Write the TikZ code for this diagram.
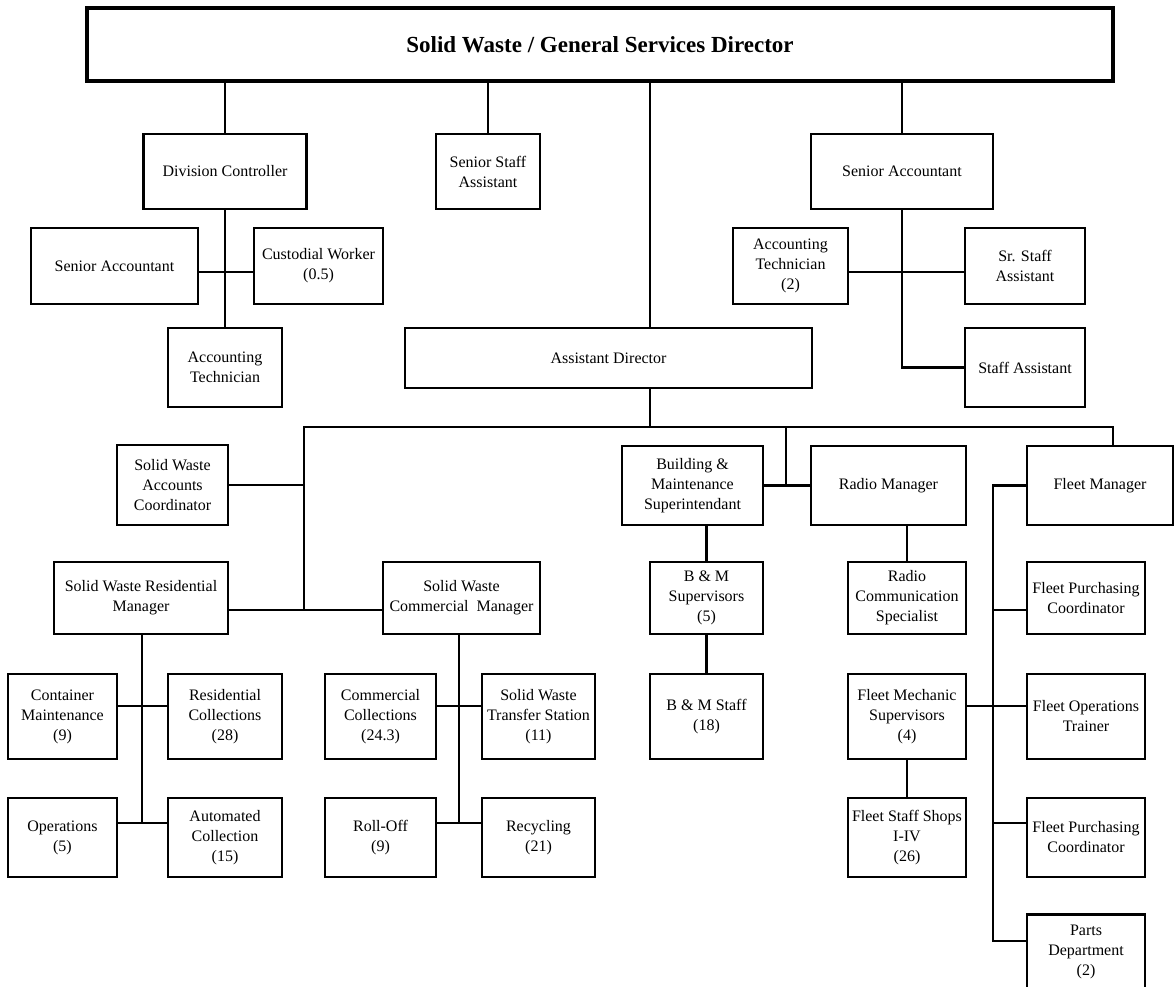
\documentclass[tikz,border=0pt]{standalone}
\usepackage{fontspec}
\setmainfont{Liberation Serif}
\usepackage{tikz}
\tikzset{
	orgbox/.style={draw=black, line width=2.2pt, align=center, inner sep=2pt, font=\fontsize{16}{20}\selectfont},
	link/.style={draw=black, line width=2.2pt},
}

\begin{document}
\begin{tikzpicture}[x=1pt, y=-1pt]
					\useasboundingbox (0, 0) rectangle (1175, 987);
					\node[orgbox, line width=3.8pt, minimum width=1026pt, minimum height=73pt, font=\fontsize{23}{28}\selectfont\bfseries] (dir) at (600, 44.5) {Solid Waste / General Services Director};
					% upper staff
					\node[orgbox, minimum width=163pt, minimum height=75pt] (ctl) at (225, 171.5) {Division Controller};
					\node[orgbox, minimum width=104pt, minimum height=75pt] (ssa) at (488, 171.5) {Senior Staff\\Assistant};
					\node[orgbox, minimum width=182pt, minimum height=75pt] (acct) at (902, 171.5) {Senior Accountant};
					\node[orgbox, minimum width=167pt, minimum height=76pt] (ctlacct) at (114.5, 266) {Senior Accountant};
					\node[orgbox, minimum width=129pt, minimum height=76pt] (cust) at (318.5, 266) {Custodial Worker\\(0.5)};
					\node[orgbox, minimum width=114pt, minimum height=79pt] (ctltech) at (225, 367.5) {Accounting\\Technician};
					\node[orgbox, minimum width=115pt, minimum height=76pt] (accttech) at (790.5, 266) {Accounting\\Technician\\(2)};
					\node[orgbox, minimum width=120pt, minimum height=76pt] (srstaff) at (1025, 266) {Sr. Staff\\Assistant};
					\node[orgbox, minimum width=120pt, minimum height=79pt] (staff) at (1025, 367.5) {Staff Assistant};
					\node[orgbox, minimum width=407pt, minimum height=60pt] (asst) at (608.5, 358) {Assistant Director};
					% solid waste
					\node[orgbox, minimum width=111pt, minimum height=80pt] (swacc) at (172.5, 485) {Solid Waste\\Accounts\\Coordinator};
					\node[orgbox, minimum width=174pt, minimum height=72pt] (resmgr) at (141, 598) {Solid Waste Residential\\Manager};
					\node[orgbox, minimum width=157pt, minimum height=72pt] (commgr) at (461.5, 598) {Solid Waste\\Commercial\ \ Manager};
					\node[orgbox, minimum width=109pt, minimum height=85pt] (contain) at (62.5, 716.5) {Container\\Maintenance\\(9)};
					\node[orgbox, minimum width=114pt, minimum height=85pt] (rescoll) at (225, 716.5) {Residential\\Collections\\(28)};
					\node[orgbox, minimum width=109pt, minimum height=79pt] (ops) at (62.5, 837.5) {Operations\\(5)};
					\node[orgbox, minimum width=114pt, minimum height=79pt] (auto) at (225, 837.5) {Automated\\Collection\\(15)};
					\node[orgbox, minimum width=111pt, minimum height=85pt] (comcoll) at (380.5, 716.5) {Commercial\\Collections\\(24.3)};
					\node[orgbox, minimum width=113pt, minimum height=85pt] (transfer) at (538.5, 716.5) {Solid Waste\\Transfer Station\\(11)};
					\node[orgbox, minimum width=111pt, minimum height=79pt] (rolloff) at (380.5, 837.5) {Roll-Off\\(9)};
					\node[orgbox, minimum width=113pt, minimum height=79pt] (recyc) at (538.5, 837.5) {Recycling\\(21)};
					% building, radio and fleet
					\node[orgbox, minimum width=141pt, minimum height=79pt] (bldg) at (692.5, 485.5) {Building \&\\Maintenance\\Superintendant};
					\node[orgbox, minimum width=155pt, minimum height=79pt] (radio) at (888.5, 485.5) {Radio Manager};
					\node[orgbox, minimum width=146pt, minimum height=79pt] (fleet) at (1100, 485.5) {Fleet Manager};
					\node[orgbox, minimum width=113pt, minimum height=72pt] (bmsup) at (706.5, 598) {B \& M\\Supervisors\\(5)};
					\node[orgbox, minimum width=113pt, minimum height=85pt] (bmstaff) at (706.5, 716.5) {B \& M Staff\\(18)};
					\node[orgbox, minimum width=118pt, minimum height=72pt] (radiospec) at (907, 598) {Radio\\Communication\\Specialist};
					\node[orgbox, minimum width=118pt, minimum height=85pt] (mechsup) at (907, 716.5) {Fleet Mechanic\\Supervisors\\(4)};
					\node[orgbox, minimum width=118pt, minimum height=79pt] (shops) at (907, 837.5) {Fleet Staff Shops\\I-IV\\(26)};
					\node[orgbox, minimum width=118pt, minimum height=72pt] (purch) at (1086, 598) {Fleet Purchasing\\Coordinator};
					\node[orgbox, minimum width=118pt, minimum height=85pt] (trainer) at (1086, 716.5) {Fleet Operations\\Trainer};
					\node[orgbox, minimum width=118pt, minimum height=79pt] (purchb) at (1086, 837.5) {Fleet Purchasing\\Coordinator};
					\node[orgbox, minimum width=118pt, minimum height=75pt] (parts) at (1086, 952) {Parts\\Department\\(2)};
					% junctions
					\coordinate (ctlj) at (225, 272);
					\coordinate (acctj) at (902, 272);
					\coordinate (trunk) at (650, 427);
					\coordinate (busw) at (304, 427);
					\coordinate (buse) at (1113, 427);
					\coordinate (bldgj) at (786, 427);
					\coordinate (swj) at (304, 610);
					\coordinate (resj) at (142, 706);
					\coordinate (resk) at (142, 823);
					\coordinate (comj) at (459, 706);
					\coordinate (comk) at (459, 823);
					\coordinate (fltop) at (993, 485.5);
					\coordinate (fla) at (993, 610);
					\coordinate (flb) at (993, 706);
					\coordinate (flc) at (993, 823);
					\coordinate (flbot) at (993, 941);
					% lines
					\draw[link] (dir.south -| ctl.north) -- (ctl.north);
					\draw[link] (dir.south -| ssa.north) -- (ssa.north);
					\draw[link] (dir.south -| acct.north) -- (acct.north);
					\draw[link] (dir.south -| trunk) -- (asst.north -| trunk);
					\draw[link] (asst.south -| trunk) -- (trunk);
					\draw[link] (ctl.south) -- (ctltech.north);
					\draw[link] (ctlacct.east |- ctlj) -- (cust.west |- ctlj);
					\draw[link] (acct.south) |- (staff.west);
					\draw[link] (accttech.east |- acctj) -- (srstaff.west |- acctj);
					\draw[link] (swj) -- (busw) -- (buse) -- (fleet.north -| buse);
					\draw[link] (swacc.east) -- (swacc.east -| busw);
					\draw[link] (resmgr.east |- swj) -- (commgr.west |- swj);
					\draw[link] (resmgr.south -| resj) -- (resk);
					\draw[link] (contain.east |- resj) -- (rescoll.west |- resj);
					\draw[link] (ops.east |- resk) -- (auto.west |- resk);
					\draw[link] (commgr.south -| comj) -- (comk);
					\draw[link] (comcoll.east |- comj) -- (transfer.west |- comj);
					\draw[link] (rolloff.east |- comk) -- (recyc.west |- comk);
					\draw[link] (bldgj) -- (bldgj |- bldg.east);
					\draw[link] (bldg.east) -- (radio.west);
					\draw[link] (bldg.south -| bmsup.north) -- (bmsup.north);
					\draw[link] (bmsup.south) -- (bmstaff.north);
					\draw[link] (radio.south -| radiospec.north) -- (radiospec.north);
					\draw[link] (fleet.west) -- (fltop) -- (flbot) -- (flbot -| parts.west);
					\draw[link] (fla) -- (fla -| purch.west);
					\draw[link] (flb -| mechsup.east) -- (flb -| trainer.west);
					\draw[link] (flc) -- (flc -| purchb.west);
					\draw[link] (mechsup.south) -- (shops.north);
				\end{tikzpicture}
\end{document}
